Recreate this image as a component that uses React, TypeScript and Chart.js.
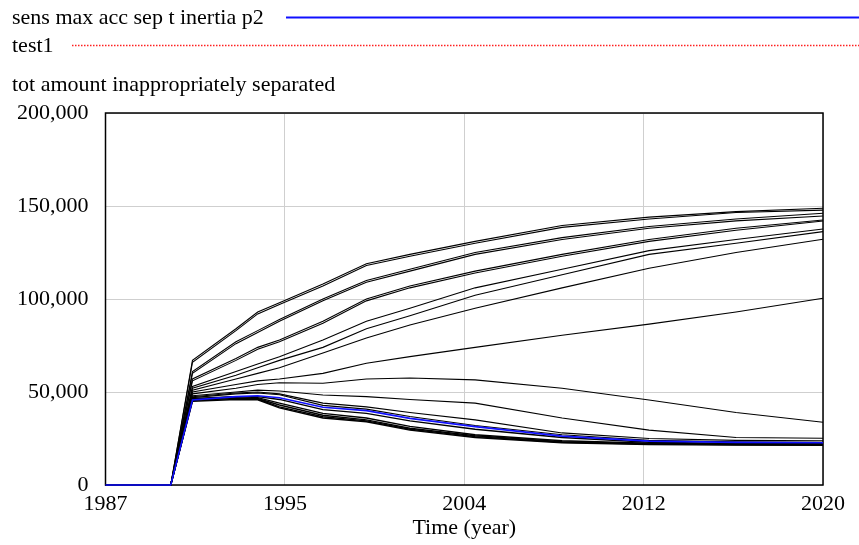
import React, { useEffect, useRef } from "react";
import { Chart, registerables } from "chart.js";

Chart.register(...registerables);

// ---- Data ----
const years = [1987, 1990, 1991, 1993, 1994, 1995, 1997, 1999, 2001, 2004, 2008, 2012, 2016, 2020];

// base run (blue), thousands
const baseRun = [0, 0, 45.7, 47.5, 48, 46.9, 41.8, 40, 35.8, 31.4, 26.3, 23.6, 22.9, 22.7];

// sensitivity runs (black), thousands
const sens01 = [0, 0, 67, 84, 93, 98, 108, 119, 124, 131, 139.5, 144, 147, 148.8];
const sens02 = [0, 0, 66, 83, 92, 97, 107, 118, 123, 130, 138.5, 143, 146.5, 147.8];
const sens03 = [0, 0, 61, 77, 83, 89, 100, 110, 116, 125, 133, 139, 143, 146.1];
const sens04 = [0, 0, 60, 76, 82, 88, 99, 109, 115, 124, 132, 138, 142, 144.6];
const sens05 = [0, 0, 57, 68, 74, 78, 88, 100, 107, 115, 124, 132, 138, 142.5];
const sens06 = [0, 0, 56, 67, 73, 77, 87, 99, 106, 114, 123, 131, 137, 141.9];
const sens07 = [0, 0, 53, 61, 65, 69, 78, 88, 95, 106, 116, 126, 132, 137.6];
const sens08 = [0, 0, 52, 59, 63, 67, 74, 84, 91, 102, 113, 124, 130, 136.2];
const sens09 = [0, 0, 51, 57, 60, 63, 71, 79, 86, 95, 106, 116.5, 125, 132.1];
const sens10 = [0, 0, 50, 54, 56, 57, 60, 65.5, 69, 74, 80.5, 86.5, 93, 100.4];
const sens11 = [0, 0, 49, 52, 54, 55, 54.7, 57, 57.5, 56.5, 52, 45.7, 39, 33.7];
const sens12 = [0, 0, 48, 50, 51, 50.5, 48.4, 47.5, 46, 44, 36, 29.5, 25.5, 25.1];
const sens13 = [0, 0, 47.5, 49.5, 50, 49, 44, 42, 39, 35, 28, 25, 24, 23.8];
const sens14 = [0, 0, 47, 49, 49.5, 48.5, 42.8, 40.8, 36.8, 32, 27, 24, 23.2, 23];
const sens15 = [0, 0, 46, 47.5, 47.5, 46, 40.5, 38.5, 34.5, 30, 25.5, 23, 22.3, 22.2];
const sens16 = [0, 0, 45.5, 46.5, 46.2, 42, 36.7, 34.5, 30, 26, 23, 22, 21.7, 21.5];
const sens17 = [0, 0, 46, 47, 46.5, 43, 37.5, 35, 30.5, 26.5, 23.3, 22.2, 21.8, 21.7];
const sens18 = [0, 0, 45, 46, 45.8, 41.5, 36, 34, 29.5, 25.5, 22.7, 21.8, 21.5, 21.3];
const sens19 = [0, 0, 46.5, 47.5, 47, 44, 38.5, 36, 31.5, 27, 23.8, 22.5, 22, 21.9];

const sensRuns = [
  sens01, sens02, sens03, sens04, sens05, sens06, sens07, sens08, sens09, sens10,
  sens11, sens12, sens13, sens14, sens15, sens16, sens17, sens18, sens19,
];

const xTickLabels = ["1987", "1995", "2004", "2012", "2020"];
const xMin = 1987;
const xMax = 2020;
const yTickStep = 50000;

const legendLabels = ["sens max acc sep t inertia p2", "test1"];
const chartTitle = "tot amount inappropriately separated";
const xAxisTitle = "Time (year)";

const FAMILY = "'Liberation Serif', 'Times New Roman', serif";
const FONT = "22px " + FAMILY;

const toPoints = (arr: number[]) => arr.map((v, i) => ({ x: years[i], y: v * 1000 }));

const decorPlugin = {
  id: "decor",
  beforeDatasetsDraw(chart: any) {
    const { ctx, chartArea } = chart;
    ctx.save();
    ctx.strokeStyle = "#000";
    ctx.lineWidth = 1.5;
    ctx.strokeRect(chartArea.left, chartArea.top, chartArea.right - chartArea.left, chartArea.bottom - chartArea.top);
    ctx.restore();
  },
  afterDraw(chart: any) {
    const { ctx, chartArea } = chart;
    ctx.save();
    ctx.font = FONT;
    ctx.fillStyle = "#000";
    ctx.textBaseline = "middle";
    ctx.textAlign = "left";
    // legend row 1
    ctx.fillText(legendLabels[0], 12, 18);
    ctx.strokeStyle = "#1010ff";
    ctx.lineWidth = 2;
    ctx.beginPath();
    ctx.moveTo(286, 17.5);
    ctx.lineTo(859, 17.5);
    ctx.stroke();
    // legend row 2
    ctx.fillText(legendLabels[1], 12, 46);
    ctx.strokeStyle = "#ff2020";
    ctx.lineWidth = 1.5;
    ctx.setLineDash([1.5, 1.5]);
    ctx.beginPath();
    ctx.moveTo(72, 45.5);
    ctx.lineTo(859, 45.5);
    ctx.stroke();
    ctx.setLineDash([]);
    // chart title
    ctx.fillText(chartTitle, 12, 85);
    // x axis title
    ctx.textAlign = "center";
    ctx.fillText(xAxisTitle, (chartArea.left + chartArea.right) / 2, 528);
    ctx.restore();
  },
};

export default function App() {
  const ref = useRef<HTMLCanvasElement>(null);
  useEffect(() => {
    if (!ref.current) return;
    const datasets: any[] = [
      {
        label: legendLabels[0],
        data: toPoints(baseRun),
        borderColor: "#1010ff",
        borderWidth: 1.6,
        pointRadius: 0,
        tension: 0,
        clip: false,
      },
      ...sensRuns.map((r, i) => ({
        label: "sens" + (i + 1),
        data: toPoints(r),
        borderColor: "#000",
        borderWidth: i >= 14 ? 1.4 : 1.1,
        pointRadius: 0,
        tension: 0,
        clip: false,
      })),
    ];
    const chart = new Chart(ref.current, {
      type: "line",
      data: { datasets },
      options: {
        animation: false,
        responsive: false,
        events: [],
        layout: { padding: { left: 0, right: 36, top: 113, bottom: 0 } },
        plugins: { legend: { display: false }, tooltip: { enabled: false }, title: { display: false } },
        scales: {
          x: {
            type: "linear",
            min: xMin,
            max: xMax,
            afterFit: (s: any) => { s.height = 60; },
            afterBuildTicks: (s: any) => {
              const n = xTickLabels.length;
              s.ticks = xTickLabels.map((_, i) => ({ value: xMin + ((xMax - xMin) * i) / (n - 1) }));
            },
            ticks: {
              autoSkip: false,
              maxRotation: 0,
              padding: 6,
              color: "#000",
              font: { family: FAMILY, size: 22 },
              callback: (_v: any, i: number) => xTickLabels[i],
            },
            grid: { color: "#cfcfcf", lineWidth: 1, drawTicks: false },
            border: { display: false },
          },
          y: {
            min: 0,
            max: 200000,
            afterFit: (s: any) => { s.width = 105.5; },
            ticks: {
              stepSize: yTickStep,
              padding: 17,
              color: "#000",
              font: { family: FAMILY, size: 22 },
              callback: (v: any) => Number(v).toLocaleString("en-US"),
            },
            grid: { color: "#cfcfcf", lineWidth: 1, drawTicks: false },
            border: { display: false },
          },
        },
      },
      plugins: [decorPlugin],
    } as any);
    return () => chart.destroy();
  }, []);
  return (
    <div style={{ position: "fixed", left: 0, top: 0, width: 859, height: 545, background: "#fff" }}>
      <canvas ref={ref} width={859} height={545} style={{ display: "block" }} />
    </div>
  );
}
